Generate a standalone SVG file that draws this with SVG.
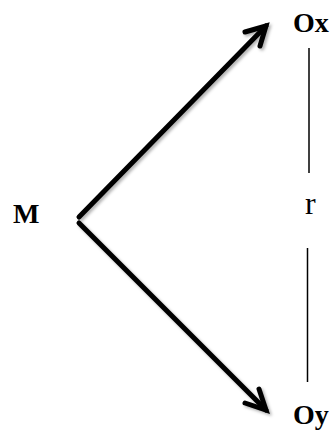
<svg xmlns="http://www.w3.org/2000/svg" width="336" height="431" viewBox="0 0 336 431">
<defs>
<style>
.lbl{font-family:"Liberation Serif","Times New Roman",serif;font-size:28px;fill:#000}
.b{font-weight:bold}
.arr{fill:none;stroke:#000;stroke-width:5;stroke-linecap:round;stroke-linejoin:miter}
.vl{stroke:#000;stroke-width:1.5}
</style>
<filter id="sh" x="-10%" y="-10%" width="130%" height="130%">
<feDropShadow dx="2" dy="2" stdDeviation="1.5" flood-color="#000" flood-opacity="0.3"/>
</filter>
</defs>
<rect width="336" height="431" fill="#fff"/>
<g id="connectors">
<g filter="url(#sh)">
<path class="arr" d="M79,217 L266,26"/>
<path class="arr" d="M245,32 L266,26 L260,46"/>
<path class="arr" d="M79,223 L266,410"/>
<path class="arr" d="M245,403 L266,410 L259,389"/>
</g>
<line class="vl" x1="309" y1="48" x2="309" y2="173"/>
<line class="vl" x1="307.5" y1="248" x2="307.5" y2="382"/>
</g>
<g id="M"><text class="lbl b" x="13" y="223">M</text></g>
<g id="Ox"><text class="lbl b" x="293" y="32">Ox</text></g>
<g id="Oy"><text class="lbl b" x="293" y="424">Oy</text></g>
<g id="r"><text class="lbl" x="305" y="214" style="font-size:32px">r</text></g>
</svg>
